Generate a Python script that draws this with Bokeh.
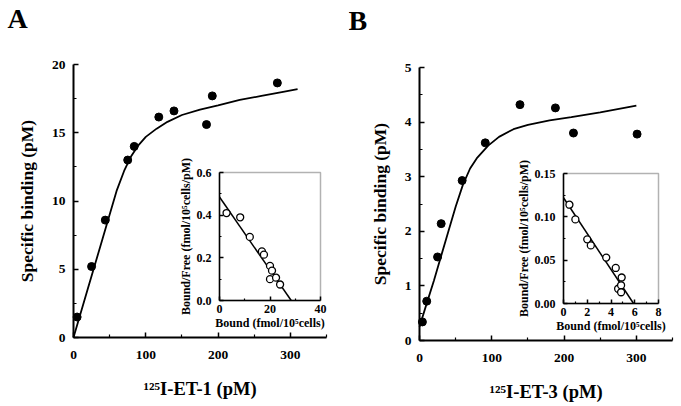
from bokeh.plotting import figure
from bokeh.layouts import row
from bokeh.models import (FixedTicker, NumeralTickFormatter, Range1d, LinearAxis, BoxAnnotation, Label)
from bokeh.embed import file_html
from bokeh.resources import INLINE

FONT = "Liberation Serif"

# ---------------- data ----------------
# Panel A: 125I-ET-1 saturation
a_conc = [5, 25, 44, 75, 84, 118, 139, 184, 192, 282]
a_bind = [1.5, 5.2, 8.6, 13.0, 14.0, 16.15, 16.6, 15.6, 17.7, 18.65]
a_fit_conc = [0, 20, 40, 60, 70, 80, 90, 100, 115, 130, 150, 175, 200, 230, 260, 290, 310]
a_fit_bind = [0.0, 3.6, 7.2, 10.8, 12.2, 13.3, 14.1, 14.7, 15.3, 15.8, 16.3, 16.7, 17.0, 17.4, 17.7, 18.0, 18.2]
# Panel A inset: Scatchard
a_sc_bound = [2.8, 8.2, 12, 16.8, 17.6, 20, 20.8, 20, 22.4, 24]
a_sc_ratio = [0.41, 0.39, 0.298, 0.23, 0.215, 0.162, 0.14, 0.1, 0.107, 0.075]
a_sc_fit_bound = [0, 28.4]
a_sc_fit_ratio = [0.485, 0.0]

# Panel B: 125I-ET-3 saturation
b_conc = [4, 10, 25, 30, 59, 91, 139, 188, 213, 301]
b_bind = [0.34, 0.72, 1.53, 2.14, 2.93, 3.62, 4.32, 4.26, 3.80, 3.78]
b_fit_conc = [0, 10, 20, 30, 40, 50, 60, 70, 80, 95, 110, 130, 150, 180, 210, 250, 300]
b_fit_bind = [0.25, 0.68, 1.1, 1.55, 2.0, 2.45, 2.85, 3.15, 3.35, 3.57, 3.73, 3.87, 3.95, 4.03, 4.09, 4.18, 4.3]
# Panel B inset: Scatchard
b_sc_bound = [0.5, 1.0, 2.0, 2.3, 3.6, 4.4, 4.6, 4.85, 4.9, 4.85]
b_sc_ratio = [0.114, 0.097, 0.074, 0.067, 0.053, 0.041, 0.017, 0.021, 0.030, 0.013]
b_sc_fit_bound = [0, 5.9]
b_sc_fit_ratio = [0.122, 0.0]

x_ticks_main = [0, 100, 200, 300]
a_y_ticks = [0, 5, 10, 15, 20]
b_y_ticks = [0, 1, 2, 3, 4, 5]
a_inset_x_ticks = [0, 20, 40]
a_inset_y_ticks = [0, 0.2, 0.4, 0.6]
b_inset_x_ticks = [0, 2, 4, 6, 8]
b_inset_y_ticks = [0, 0.05, 0.10, 0.15]

x_label_a = "\u00b9\u00b2\u2075I-ET-1 (pM)"
x_label_b = "\u00b9\u00b2\u2075I-ET-3 (pM)"
y_label_main = "Specific binding (pM)"
x_label_inset = "Bound (fmol/10\u2075cells)"
y_label_inset = "Bound/Free (fmol/10\u2075cells/pM)"

H = 406
X_MAX = 350


def style_axis(ax, tick_size, label_size, tick_standoff, label_standoff, line_w, tin, minin):
    ax.axis_line_width = line_w
    ax.axis_line_color = "black"
    ax.major_tick_in = tin
    ax.major_tick_out = 0
    ax.minor_tick_in = minin
    ax.minor_tick_out = 0
    ax.major_tick_line_width = 1.5
    ax.minor_tick_line_width = 1.2
    ax.major_tick_line_color = "black"
    ax.minor_tick_line_color = "black"
    ax.major_label_text_font = FONT
    ax.major_label_text_font_style = "bold"
    ax.major_label_text_font_size = tick_size
    ax.major_label_text_color = "black"
    ax.major_label_standoff = tick_standoff
    ax.axis_label_text_font = FONT
    ax.axis_label_text_font_style = "bold"
    ax.axis_label_text_font_size = label_size
    ax.axis_label_text_color = "black"
    ax.axis_label_standoff = label_standoff


def minors(ticks):
    return [(a + b) / 2 for a, b in zip(ticks[:-1], ticks[1:])]


def span_range(p0, p1, v0, v1, lo_px, hi_px):
    """Range whose value v0 sits at canvas pixel p0 and v1 at p1, over pixels lo..hi."""
    k = (v1 - v0) / (p1 - p0)
    a, b = v0 + (lo_px - p0) * k, v0 + (hi_px - p0) * k
    return Range1d(min(a, b), max(a, b))


def panel(letter, conc, bind, fconc, fbind, yticks, xlabel, width, axes_box,
          sc_x, sc_y, sc_fx, sc_fy, ixt, iyt, iyfmt, inset_box, letter_xy):
    ymax = yticks[-1]
    ax0, ax1, ay0, ay1 = axes_box          # pixel: x of 0, x of X_MAX, y of ymax, y of 0
    p = figure(width=width, height=H,
               x_range=span_range(ax0, ax1, 0, X_MAX, 0, width),
               y_range=span_range(ay1, ay0, 0, ymax, H, 0),
               output_backend="svg", toolbar_location=None,
               min_border_left=0, min_border_right=0, min_border_top=0, min_border_bottom=0)
    p.outline_line_color = None
    p.background_fill_color = "white"
    p.border_fill_color = "white"
    p.xgrid.visible = False
    p.ygrid.visible = False

    p.line(fconc, fbind, line_color="black", line_width=1.8)
    p.scatter(conc, bind, size=8, fill_color="black", line_color="black")

    xa = p.xaxis[0]
    ya = p.yaxis[0]
    xa.fixed_location = 0
    ya.fixed_location = 0
    xa.bounds = (0, X_MAX)
    ya.bounds = (0, ymax)
    xa.ticker = FixedTicker(ticks=x_ticks_main, minor_ticks=minors(x_ticks_main + [400]))
    ya.ticker = FixedTicker(ticks=yticks, minor_ticks=minors(yticks))
    xa.axis_label = xlabel
    ya.axis_label = y_label_main
    style_axis(xa, "13.5px", "18.5px", 13, 17, 2, 5, 3)
    style_axis(ya, "13.5px", "17.5px", 8, 12, 2, 5, 3)

    # ---- inset via extra ranges ----
    bx0, bx1, by0, by1 = inset_box
    ixmax, iymax = ixt[-1], iyt[-1]
    p.extra_x_ranges = {"ix": span_range(bx0, bx1, 0, ixmax, 0, width)}
    p.extra_y_ranges = {"iy": span_range(by1, by0, 0, iymax, H, 0)}

    p.add_layout(BoxAnnotation(left=0, right=ixmax, bottom=0, top=iymax,
                               x_range_name="ix", y_range_name="iy",
                               fill_color="white", fill_alpha=1.0,
                               line_color="black", line_width=1.5, level="underlay"))
    p.line(sc_fx, sc_fy, x_range_name="ix", y_range_name="iy", line_color="black", line_width=1.5)
    p.scatter(sc_x, sc_y, x_range_name="ix", y_range_name="iy", size=7,
              fill_color="white", line_color="black", line_width=1.3)

    iy_ax = LinearAxis(x_range_name="ix", y_range_name="iy", fixed_location=0,
                       bounds=(0, iymax), axis_label=y_label_inset,
                       ticker=FixedTicker(ticks=iyt, minor_ticks=minors(iyt)),
                       formatter=NumeralTickFormatter(format=iyfmt))
    style_axis(iy_ax, "12px", "12px", 8, 1, 1.5, 4, 2)
    p.add_layout(iy_ax, "left")
    ix_ax = LinearAxis(x_range_name="ix", y_range_name="iy", fixed_location=0,
                       bounds=(0, ixmax), axis_label=x_label_inset,
                       ticker=FixedTicker(ticks=ixt, minor_ticks=minors(ixt)))
    style_axis(ix_ax, "12px", "12px", 4, 0, 1.5, 4, 2)
    p.add_layout(ix_ax, "below")

    # panel letter (placed in pixel terms via the main scales)
    kx = X_MAX / (ax1 - ax0)
    ky = ymax / (ay1 - ay0)
    p.add_layout(Label(x=(letter_xy[0] - ax0) * kx, y=(ay1 - letter_xy[1]) * ky, text=letter,
                       text_font=FONT, text_font_style="bold", text_font_size="28px",
                       text_align="left", text_baseline="alphabetic", text_color="black"))
    return p


pA = panel("A", a_conc, a_bind, a_fit_conc, a_fit_bind, a_y_ticks, x_label_a,
           348, (73, 326, 64, 337),
           a_sc_bound, a_sc_ratio, a_sc_fit_bound, a_sc_fit_ratio,
           a_inset_x_ticks, a_inset_y_ticks, "0.0", (219, 320, 172, 300), (7, 18))
pB = panel("B", b_conc, b_bind, b_fit_conc, b_fit_bind, b_y_ticks, x_label_b,
           333, (71, 324, 67, 340),
           b_sc_bound, b_sc_ratio, b_sc_fit_bound, b_sc_fit_ratio,
           b_inset_x_ticks, b_inset_y_ticks, "0.00", (215, 310, 173, 303), (0, 20))

layout = row(pA, pB)
layout.spacing = 0

open("out.html", "w").write(file_html(layout, INLINE))
